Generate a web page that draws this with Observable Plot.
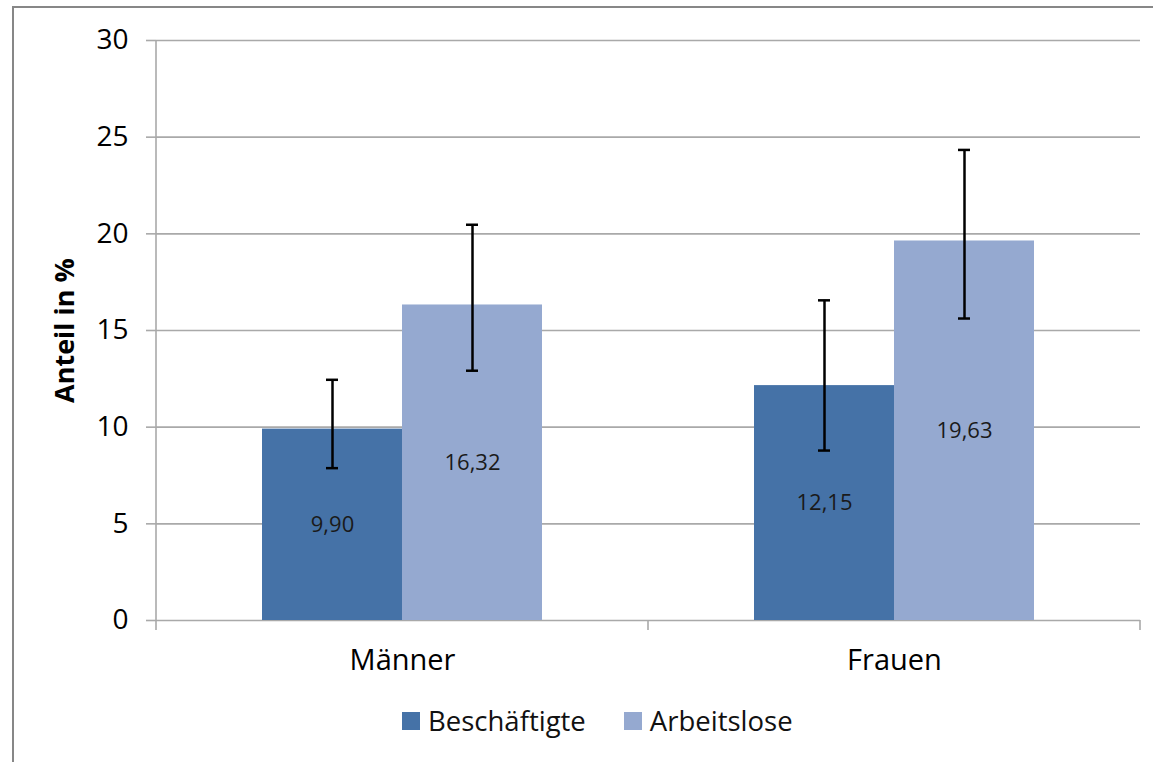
<!DOCTYPE html>
<html>
<head>
<meta charset="utf-8">
<script src="https://cdn.jsdelivr.net/npm/d3@7"></script>
<script src="https://cdn.jsdelivr.net/npm/@observablehq/plot@0.6"></script>
<style>
  html, body { margin: 0; padding: 0; background: #fff; }
  body { width: 1153px; height: 762px; overflow: hidden; position: relative; font-family: "Open Sans", sans-serif; }
  #border { position: absolute; left: 12px; top: 6px; width: 1300px; height: 900px;
            border-left: 2px solid #878787; border-top: 2px solid #878787; box-sizing: border-box; }
  #chart { position: absolute; left: 0; top: 0; }
  #chart svg g[aria-label="y-axis label"] text { font-weight: bold; font-size: 27px; }
  #legend { position: absolute; left: 402px; top: 702px; display: flex; align-items: center;
            font-size: 27.5px; color: #111; }
  #legend .item { display: flex; align-items: center; margin-right: 38px; }
  #legend .sw { width: 18px; height: 18px; margin-right: 8px; }
</style>
</head>
<body>
<div id="border"></div>
<div id="chart"></div>
<div id="legend"></div>
<script>
// ---- data ----
const categories = ["Männer", "Frauen"];
const series = ["Beschäftigte", "Arbeitslose"];
const valuesBeschaeftigte = [9.90, 12.15];
const valuesArbeitslose = [16.32, 19.63];
const errLowBeschaeftigte = [7.88, 8.79];
const errHighBeschaeftigte = [12.45, 16.56];
const errLowArbeitslose = [12.92, 15.62];
const errHighArbeitslose = [20.47, 24.34];
const yTicks = [0, 5, 10, 15, 20, 25, 30];
const colors = ["#4572A7", "#95A9D0"];

const rows = [];
categories.forEach((c, i) => {
  rows.push({cat: c, ser: series[0], value: valuesBeschaeftigte[i], lo: errLowBeschaeftigte[i], hi: errHighBeschaeftigte[i]});
  rows.push({cat: c, ser: series[1], value: valuesArbeitslose[i], lo: errLowArbeitslose[i], hi: errHighArbeitslose[i]});
});
const fmt = v => d3.format(".2f")(v).replace(".", ",");

const plot = Plot.plot({
  width: 1153,
  height: 690,
  marginLeft: 156,
  marginRight: 13,
  marginTop: 40,
  marginBottom: 70,
  style: {fontFamily: "Open Sans, sans-serif", fontSize: "26px", color: "#000", background: "transparent", overflow: "visible"},
  fx: {domain: categories, padding: 0, label: null},
  x: {domain: series, paddingInner: 0, paddingOuter: 0.757, axis: null},
  y: {domain: [0, 30], axis: null},
  color: {domain: series, range: colors},
  marks: [
    Plot.ruleY(yTicks, {y: d => d, stroke: "#a9a9a9", strokeWidth: 1.6}),
    Plot.axisY(yTicks, {
      anchor: "left", tickSize: 10, tickPadding: 18, stroke: "#a9a9a9", strokeWidth: 1.6,
      fill: "#000", fontSize: 28, label: "Anteil in %", labelAnchor: "center", labelArrow: "none", labelOffset: 102,
      tickFormat: d => String(d)
    }),
    Plot.axisFx({anchor: "bottom", tickSize: 0, tickPadding: 29, fontSize: 29, label: null}),
    Plot.barY(rows, {fx: "cat", x: "ser", y: "value", fill: "ser"}),
    Plot.ruleX(rows, {fx: "cat", x: "ser", y1: "lo", y2: "hi", stroke: "#000", strokeWidth: 2.5}),
    Plot.tickY(rows, {fx: "cat", x: "ser", y: "hi", stroke: "#000", strokeWidth: 2.5, insetLeft: 64, insetRight: 64}),
    Plot.tickY(rows, {fx: "cat", x: "ser", y: "lo", stroke: "#000", strokeWidth: 2.5, insetLeft: 64, insetRight: 64}),
    Plot.text(rows, {fx: "cat", x: "ser", y: d => d.value / 2, text: d => fmt(d.value), fill: "#1a1a1a", fontSize: 22})
  ]
});
document.getElementById("chart").appendChild(plot);

// y axis line and category boundary ticks, from the plot's own scales
const fxS = plot.scale("fx"), yS = plot.scale("y");
const svg = d3.select(plot);
const y0 = yS.apply(0), yTop = yS.apply(30);
const bounds = categories.map(c => fxS.apply(c)).concat([fxS.apply(categories[categories.length - 1]) + fxS.bandwidth]);
const g = svg.append("g").attr("stroke", "#a9a9a9").attr("stroke-width", 1.6);
g.append("line").attr("x1", bounds[0]).attr("x2", bounds[0]).attr("y1", yTop).attr("y2", y0);
bounds.forEach(b => g.append("line").attr("x1", b).attr("x2", b).attr("y1", y0).attr("y2", y0 + 10));

// legend
const leg = d3.select("#legend");
series.forEach((s, i) => {
  const it = leg.append("div").attr("class", "item");
  it.append("div").attr("class", "sw").style("background", colors[i]);
  it.append("span").text(s);
});
</script>
</body>
</html>
